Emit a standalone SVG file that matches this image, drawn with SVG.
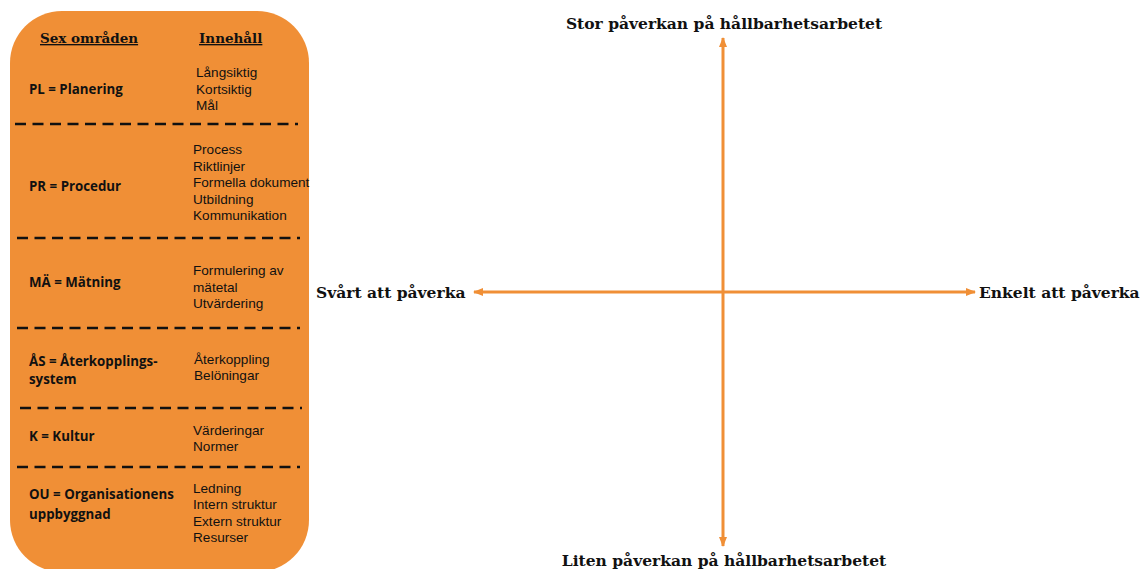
<svg xmlns="http://www.w3.org/2000/svg" width="1141" height="569" viewBox="0 0 1141 569">
<style>
.box{fill:#F08F36}
.dash{stroke:#111;stroke-width:2.6;stroke-dasharray:11 6.5;fill:none}
.h{font-family:"DejaVu Serif","Liberation Serif",serif;font-weight:bold;fill:#111}
.hd{font-family:"DejaVu Serif","Liberation Serif",serif;font-weight:bold;font-size:13.5px;text-decoration:underline;fill:#111}
.lab{font-family:"Open Sans","Liberation Sans",sans-serif;font-weight:bold;font-size:13.3px;fill:#111}
.c{font-family:"Liberation Sans",Arial,sans-serif;font-size:13.6px;fill:#111}
.ax{stroke:#F08F36;stroke-width:3;fill:none}
</style>
<defs>
<marker id="ah" markerWidth="10" markerHeight="8" refX="9" refY="4" orient="auto-start-reverse" markerUnits="userSpaceOnUse">
<path d="M0,0 L10,4 L0,8 Z" fill="#F08F36"/>
</marker>
</defs>
<g id="panel">
<rect class="box" x="10" y="11" width="299" height="561" rx="52" ry="52"/>
<text class="hd" x="40" y="43">Sex områden</text>
<text class="hd" x="199" y="43">Innehåll</text>
<line class="dash" x1="15" y1="124" x2="298" y2="124"/>
<line class="dash" x1="17" y1="238" x2="300" y2="238"/>
<line class="dash" x1="17" y1="328" x2="300" y2="328"/>
<line class="dash" x1="20" y1="408" x2="302" y2="408"/>
<line class="dash" x1="17" y1="467" x2="300" y2="467"/>
</g>
<g id="pl">
<text class="lab" x="29" y="94">PL = Planering</text>
<text class="c" x="196" y="77">Långsiktig</text>
<text class="c" x="196" y="94">Kortsiktig</text>
<text class="c" x="196" y="110">Mål</text>
</g>
<g id="pr">
<text class="lab" x="29" y="191">PR = Procedur</text>
<text class="c" x="193" y="154">Process</text>
<text class="c" x="193" y="171">Riktlinjer</text>
<text class="c" x="193" y="187">Formella dokument</text>
<text class="c" x="193" y="204">Utbildning</text>
<text class="c" x="193" y="220">Kommunikation</text>
</g>
<g id="ma">
<text class="lab" x="29" y="287">MÄ = Mätning</text>
<text class="c" x="193" y="275">Formulering av</text>
<text class="c" x="193" y="292">mätetal</text>
<text class="c" x="193" y="308">Utvärdering</text>
</g>
<g id="as">
<text class="lab" x="29" y="366">ÅS = Återkopplings-</text>
<text class="lab" x="29" y="384">system</text>
<text class="c" x="194" y="364">Återkoppling</text>
<text class="c" x="194" y="380">Belöningar</text>
</g>
<g id="k">
<text class="lab" x="29" y="441">K = Kultur</text>
<text class="c" x="193" y="435">Värderingar</text>
<text class="c" x="193" y="451">Normer</text>
</g>
<g id="ou">
<text class="lab" x="29" y="499">OU = Organisationens</text>
<text class="lab" x="29" y="519">uppbyggnad</text>
<text class="c" x="193" y="493">Ledning</text>
<text class="c" x="193" y="509">Intern struktur</text>
<text class="c" x="193" y="526">Extern struktur</text>
<text class="c" x="193" y="542">Resurser</text>
</g>
<g id="connectors">
<line class="ax" x1="474" y1="292" x2="975" y2="292" marker-start="url(#ah)" marker-end="url(#ah)"/>
<line class="ax" x1="723" y1="38" x2="723" y2="546" marker-start="url(#ah)" marker-end="url(#ah)"/>
</g>
<g id="labels">
<text class="h" x="724" y="29" font-size="15.5" text-anchor="middle">Stor påverkan på hållbarhetsarbetet</text>
<text class="h" x="724" y="566" font-size="15.5" text-anchor="middle">Liten påverkan på hållbarhetsarbetet</text>
<text class="h" x="316" y="298" font-size="15.5">Svårt att påverka</text>
<text class="h" x="979" y="298" font-size="15.5">Enkelt att påverka</text>
</g>
</svg>
